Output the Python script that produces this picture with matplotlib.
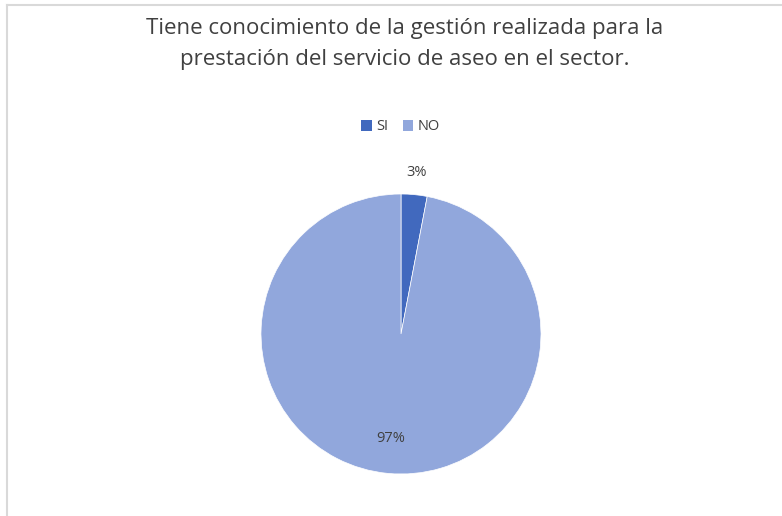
import numpy as np
import matplotlib
matplotlib.use("Agg")
import matplotlib.pyplot as plt
from matplotlib.lines import Line2D
from matplotlib.patches import Patch

plt.rcParams['font.family'] = ['Open Sans', 'DejaVu Sans']

# data
labels = ['SI', 'NO']
values = [3, 97]
colors = ['#4169BE', '#91A7DC']
title = 'Tiene conocimiento de la gestión realizada para la\nprestación del servicio de aseo en el sector.'

W, H = 782, 516
fig = plt.figure(figsize=(W / 100, H / 100), dpi=100)

# chart frame (light gray border, top and left visible)
fig.add_artist(Line2D([7 / W, 1], [1 - 5 / H, 1 - 5 / H], color='#D9D9D9', lw=1.5))
fig.add_artist(Line2D([7 / W, 7 / W], [0, 1 - 5 / H], color='#D9D9D9', lw=1.5))

cx, cy, r = 401, 516 - 334, 140
ax = fig.add_axes([(cx - r) / W, (cy - r) / H, 2 * r / W, 2 * r / H])
wedges, texts = ax.pie(values, colors=colors, startangle=90, counterclock=False,
                       wedgeprops=dict(edgecolor='white', linewidth=0.5))
ax.set_xlim(-1, 1)
ax.set_ylim(-1, 1)
ax.set_aspect('equal')

# data labels: small slice outside, big slice inside
for w, v in zip(wedges, values):
    ang = np.deg2rad((w.theta1 + w.theta2) / 2)
    dist = 1.16 if v < 10 else 0.75
    ax.text(dist * np.cos(ang), dist * np.sin(ang), f'{v}%', ha='center', va='center',
            fontsize=10.5, color='#404040', clip_on=False)

fig.text(0.518, 1 - 44 / H, title, ha='center', va='center', fontsize=16,
         color='#404040', linespacing=1.65)

handles = [Patch(facecolor=c, edgecolor='none') for c in colors]
fig.legend(handles, labels, loc='center', bbox_to_anchor=(0.512, 1 - 127 / H), ncol=2,
           frameon=False, fontsize=10.5, handlelength=0.7, handleheight=0.7,
           handletextpad=0.3, columnspacing=1.0, labelcolor='#404040')

fig.savefig('out.png', dpi=100, facecolor='white')
